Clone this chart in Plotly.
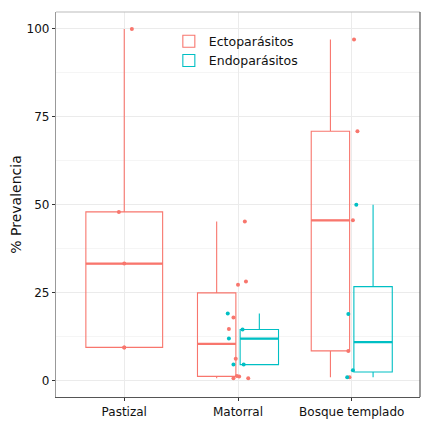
import plotly.graph_objects as go

habitats = ["Pastizal", "Matorral", "Bosque templado"]

# box statistics
ecto_hab = ["Pastizal", "Matorral", "Bosque templado"]
ecto_q1 = [9.5, 1.25, 8.5]
ecto_med = [33.3, 10.5, 45.6]
ecto_q3 = [48.0, 25.0, 70.9]
ecto_low = [9.5, 0.7, 1.0]
ecto_high = [100.0, 45.3, 97.0]

endo_hab = ["Matorral", "Bosque templado"]
endo_q1 = [4.6, 2.5]
endo_med = [12.0, 11.0]
endo_q3 = [14.6, 26.75]
endo_low = [4.6, 1.0]
endo_high = [19.1, 50.0]

# individual points (jitter offsets)
ecto_pt_hab = ["Pastizal"] * 5 + ["Matorral"] * 10 + ["Bosque templado"] * 5
ecto_pt_val = [100, 48, 33.3, 9.5, 9.5,
               45.3, 28.2, 27.3, 18.0, 14.7, 6.3, 1.4, 1.2, 0.7, 0.7,
               97.0, 70.9, 45.6, 8.5, 1.0]
ecto_pt_jit = [0.067, -0.047, 0, 0, 0,
               0.06, 0.07, 0, -0.04, -0.08, -0.02, -0.01, 0.01, -0.04, 0.09,
               0.02, 0.05, 0.01, -0.03, -0.02]

endo_pt_hab = ["Matorral"] * 5 + ["Bosque templado"] * 4
endo_pt_val = [19.1, 14.6, 12.0, 4.6, 4.6, 50.0, 19.0, 3.0, 1.0]
endo_pt_jit = [-0.09, 0.04, -0.08, -0.04, 0.05, 0.04, -0.03, 0.01, -0.04]

RED = "#F8766D"
TEAL = "#00BFC4"
idx = {h: i + 1 for i, h in enumerate(habitats)}

fig = go.Figure()


def add_boxes(name, color, hab, q1, med, q3, low, high, other):
    first = True
    for h, a, m, b, lo, hi in zip(hab, q1, med, q3, low, high):
        # dodge like ggplot: single group gets full width
        if h in other:
            w = 0.3375
            pos = idx[h] + (-0.1875 if name == "Ectoparásitos" else 0.1875)
        else:
            w = 0.675
            pos = idx[h]
        fig.add_trace(go.Box(
            x=[pos], q1=[a], median=[m], q3=[b], lowerfence=[lo], upperfence=[hi],
            width=w, name=name, legendgroup=name, showlegend=first,
            line=dict(color=color, width=1.1), fillcolor="rgba(0,0,0,0)",
            whiskerwidth=0, boxpoints=False, hoverinfo="skip"))
        fig.add_trace(go.Scatter(
            x=[pos - w / 2, pos + w / 2], y=[m, m], mode="lines",
            line=dict(color=color, width=2.2), showlegend=False, hoverinfo="skip"))
        first = False


add_boxes("Ectoparásitos", RED, ecto_hab, ecto_q1, ecto_med, ecto_q3, ecto_low, ecto_high, endo_hab)
add_boxes("Endoparásitos", TEAL, endo_hab, endo_q1, endo_med, endo_q3, endo_low, endo_high, ecto_hab)

fig.add_trace(go.Scatter(
    x=[idx[h] + j for h, j in zip(ecto_pt_hab, ecto_pt_jit)], y=ecto_pt_val,
    mode="markers", marker=dict(color=RED, size=4), showlegend=False))
fig.add_trace(go.Scatter(
    x=[idx[h] + j for h, j in zip(endo_pt_hab, endo_pt_jit)], y=endo_pt_val,
    mode="markers", marker=dict(color=TEAL, size=4), showlegend=False))

# page has an 8px body margin, so margins are shifted to compensate
fig.update_layout(
    width=435, height=429,
    margin=dict(l=48, r=23, t=4, b=40),
    plot_bgcolor="white", paper_bgcolor="white",
    font=dict(family="DejaVu Sans", size=12, color="#222"),
    boxmode="overlay",
    legend=dict(x=0.31, y=0.962, xanchor="left", yanchor="top",
                bgcolor="rgba(0,0,0,0)", font=dict(size=12.5, color="#111"),
                tracegroupgap=0, itemwidth=30),
    shapes=[
        dict(type="line", xref="paper", yref="paper", x0=0, x1=1, y0=1, y1=1,
             line=dict(color="#bbbbbb", width=1.2)),
        dict(type="line", xref="paper", yref="paper", x0=1, x1=1, y0=0, y1=1,
             line=dict(color="#555555", width=1.2)),
    ],
)
fig.update_xaxes(
    range=[0.4, 3.6], tickvals=[1, 2, 3], ticktext=habitats,
    showgrid=True, gridcolor="#ebebeb", zeroline=False, automargin=False,
    showline=True, linecolor="#555555", linewidth=1.2,
    ticks="outside", ticklen=3, tickcolor="#333",
    tickfont=dict(size=12, color="#111"))
fig.update_yaxes(
    range=[-4.6, 104.8], tickvals=[0, 25, 50, 75, 100], automargin=False,
    title=dict(text="% Prevalencia", font=dict(size=14, color="#111"), standoff=3),
    showgrid=True, gridcolor="#ebebeb", zeroline=False,
    minor=dict(tickvals=[12.5, 37.5, 62.5, 87.5], showgrid=True, gridcolor="#f5f5f5"),
    showline=True, linecolor="#999999", linewidth=1.2,
    ticks="outside", ticklen=3, tickcolor="#333",
    tickfont=dict(size=12, color="#111"))

fig.write_html("out.html")
